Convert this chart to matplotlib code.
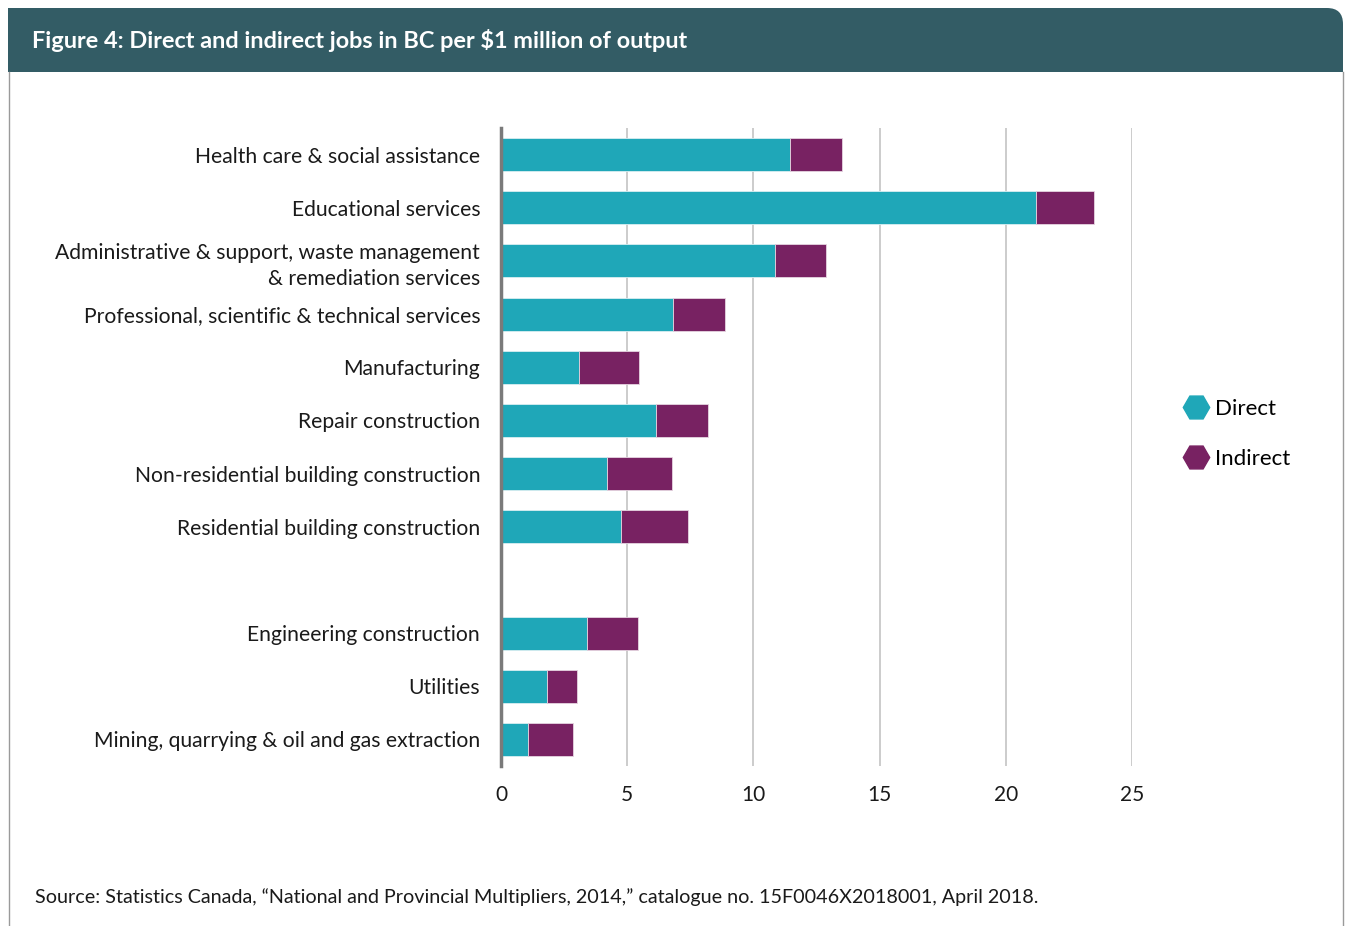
import numpy as np
import matplotlib.pyplot as plt
from matplotlib.patches import FancyBboxPatch, Rectangle
from matplotlib.lines import Line2D

# DATA
categories = ['Health care & social assistance',
              'Educational services',
              'Administrative & support, waste management\n& remediation services',
              'Professional, scientific & technical services',
              'Manufacturing',
              'Repair construction',
              'Non-residential building construction',
              'Residential building construction',
              '',
              'Engineering construction',
              'Utilities',
              'Mining, quarrying & oil and gas extraction']
direct = [11.44, 21.21, 10.84, 6.82, 3.08, 6.13, 4.19, 4.75, 0, 3.42, 1.83, 1.07]
indirect = [2.08, 2.28, 2.05, 2.05, 2.40, 2.08, 2.57, 2.65, 0, 2.02, 1.20, 1.78]
xticks = [0, 5, 10, 15, 20, 25]

teal = '#1fa7b8'
purple = '#782262'
header = '#335c65'
fam = ['Lato', 'DejaVu Sans']

plt.rcParams['font.family'] = fam

W, H = 1345, 926
fig = plt.figure(figsize=(W / 100, H / 100), dpi=100)

# header band, only the top-right corner rounded (pixel coords)
band = FancyBboxPatch((8, H - 72), W - 8 - 2, 64,
                      boxstyle='round,pad=0,rounding_size=16',
                      transform=None, facecolor=header, edgecolor='none')
fig.patches.append(band)
fig.patches.append(Rectangle((8, H - 72), 40, 64, transform=None,
                             facecolor=header, edgecolor='none'))
fig.patches.append(Rectangle((8, H - 72), W - 10, 24, transform=None,
                             facecolor=header, edgecolor='none'))
fig.lines.append(Line2D([8.5, 8.5], [0, H - 72], transform=None,
                        color='#9a9a9a', lw=1))
fig.lines.append(Line2D([W - 2.5, W - 2.5], [0, H - 72], transform=None,
                        color='#9a9a9a', lw=1))
fig.text(32 / W, 1 - 40 / H, 'Figure 4: Direct and indirect jobs in BC per $1 million of output',
         color='white', fontsize=16.9, fontweight='bold', va='center', ha='left')

ax = fig.add_axes([501 / W, 1 - 766 / H, 631 / W, 638 / H])
y = np.arange(len(categories))
ax.barh(y, direct, height=0.62, color=teal, edgecolor='#d9eef1', linewidth=0.6, label='Direct')
ax.barh(y, indirect, left=direct, height=0.62, color=purple, edgecolor='#e5d5e0', linewidth=0.6,
        label='Indirect')
ax.set_ylim(len(categories) - 0.5, -0.5)
ax.set_xlim(0, 25)
ax.set_yticks(y)
ax.set_yticklabels(categories, fontsize=15.2, color='#1a1a1a', linespacing=1.35)
for lab in ax.get_yticklabels():
    lab.set_multialignment('right')
ax.set_xticks(xticks)
ax.set_xticklabels([str(t) for t in xticks], fontsize=15, color='#1a1a1a')
ax.tick_params(axis='both', length=0)
ax.tick_params(axis='y', pad=15)
ax.tick_params(axis='x', pad=14)
ax.grid(axis='x', color='#c4c4c4', lw=1.2)
ax.set_axisbelow(True)
for s in ['top', 'right', 'bottom']:
    ax.spines[s].set_visible(False)
ax.spines['left'].set_color('#7a7a7a')
ax.spines['left'].set_linewidth(2.5)
ax.spines['left'].set_zorder(5)

handles = [Line2D([], [], marker='H', ls='none', markersize=19, color=teal, label='Direct'),
           Line2D([], [], marker='H', ls='none', markersize=19, color=purple, label='Indirect')]
fig.legend(handles=handles, loc='center left', bbox_to_anchor=(1159 / W, 1 - 434 / H),
           frameon=False, fontsize=16, handletextpad=0.1, labelspacing=1.35,
           handlelength=1.5)

fig.text(35 / W, 1 - 897 / H,
         'Source: Statistics Canada, \u201cNational and Provincial Multipliers, 2014,\u201d catalogue no. 15F0046X2018001, April 2018.',
         fontsize=14.2, color='#1a1a1a', va='center', ha='left')

fig.savefig('out.png', dpi=100)
